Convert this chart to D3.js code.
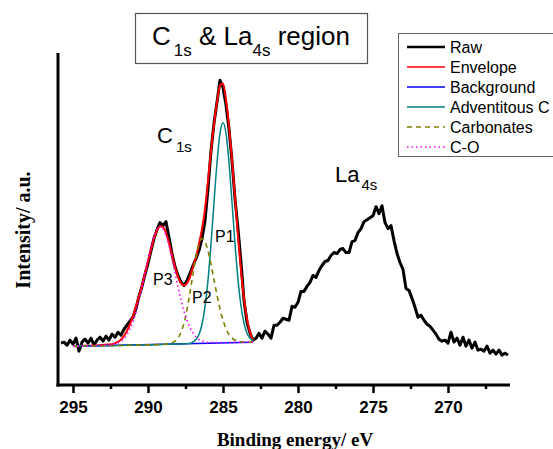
<!DOCTYPE html>
<html><head><meta charset="utf-8">
<script src="https://cdn.jsdelivr.net/npm/d3@7"></script>
<style>body{margin:0;background:#fff}</style>
</head><body>
<svg id="chart" width="553" height="449"></svg>
<script>
// ---------------- DATA ----------------
const rawEnergy = [
 295.8,295.6,295.4,295.2,295.0,294.8,294.6,294.4,294.2,294.0,
 293.8,293.6,293.4,293.2,293.0,292.8,292.6,292.4,292.2,292.0,
 291.8,291.6,291.4,291.2,291.0,290.8,290.6,290.4,290.2,290.0,
 289.8,289.6,289.4,289.2,289.0,288.8,288.6,288.4,288.2,288.0,
 287.8,287.6,287.4,287.2,287.0,286.8,286.6,286.4,286.2,286.0,
 285.8,285.6,285.4,285.2,285.0,284.8,284.6,284.4,284.2,284.0,
 283.8,283.6,283.4,283.2,283.0,282.8,282.6,282.4,282.2,282.0,
 281.8,281.6,281.4,281.2,281.0,280.8,280.6,280.4,280.2,280.0,
 279.8,279.6,279.4,279.2,279.0,278.8,278.6,278.4,278.2,278.0,
 277.8,277.6,277.4,277.2,277.0,276.8,276.6,276.4,276.2,276.0,
 275.8,275.6,275.4,275.2,275.0,274.8,274.6,274.4,274.2,274.0,
 273.8,273.6,273.4,273.2,273.0,272.8,272.6,272.4,272.2,272.0,
 271.8,271.6,271.4,271.2,271.0,270.8,270.6,270.4,270.2,270.0,
 269.8,269.6,269.4,269.2,269.0,268.8,268.6,268.4,268.2,268.0,
 267.8,267.6,267.4,267.2,267.0,266.8,266.6,266.4,266.2,266.0];
const rawIntensity = [
 126,129,120,135,123,141,102,129,138,126,
 141,120,135,144,132,147,135,153,144,159,
 150,168,180,192,204,231,267,297,333,366,
 405,441,468,489,480,492,444,396,357,330,
 309,300,315,336,360,381,405,441,495,591,
 705,789,852,918,897,843,771,675,561,471,
 369,255,189,156,135,141,156,141,162,153,
 141,180,180,189,201,198,195,237,234,249,
 282,282,297,309,330,324,345,360,372,375,
 390,399,396,408,411,399,399,432,435,459,
 471,492,498,504,510,537,516,540,489,471,
 480,435,396,369,348,291,285,261,234,204,
 210,195,183,177,165,153,138,132,135,126,
 159,129,141,120,144,117,135,111,129,105,
 108,102,117,96,105,93,105,90,96,90];

const envelope = [[295.0,117],
 [292.4,123],[292.2,126],[292.0,130],[291.8,137],[291.6,148],[291.4,163],[291.2,183],[291.0,208],
 [290.8,238],[290.6,268],[290.4,300],[290.2,336],[290.0,372],[289.8,408],[289.6,442],[289.4,466],
 [289.2,478],[289.0,476],[288.8,458],[288.6,428],[288.4,392],[288.2,356],[288.0,326],[287.8,307],
 [287.6,300],[287.4,306],[287.2,325],[287.0,356],[286.8,385],[286.6,425],[286.4,470],[286.2,530],
 [286.0,615],[285.8,705],[285.6,785],[285.4,852],[285.2,902],[285.0,908],[284.8,860],[284.6,780],
 [284.4,680],[284.2,565],[284.0,450],[283.8,345],[283.6,260],[283.4,200],[283.2,160],[283.0,132]];

const background = [[295.0,117],[283.0,129]];

const adventitiousC = [[295.0,117],[287.2,125],[287.0,130],[286.8,137],[286.6,152],[286.4,183],
 [286.2,236],[286.0,316],[285.8,424],[285.6,549],[285.4,670],[285.2,758],[285.0,790],[284.8,758],
 [284.6,670],[284.4,550],[284.2,426],[284.0,318],[283.8,238],[283.6,186],[283.4,156],[283.2,141],[283.0,134]];

const carbonates = [[295.0,117],[288.8,123],[288.6,125],[288.4,127],[288.2,132],[288.0,142],
 [287.8,159],[287.6,186],[287.4,227],[287.2,278],[287.0,335],[286.8,388],[286.6,426],[286.4,441],
 [286.2,431],[286.0,404],[285.8,364],[285.6,317],[285.4,271],[285.2,229],[285.0,195],[284.8,170],
 [284.6,152],[284.4,142],[284.2,135],[284.0,132],[283.8,130],[283.0,129]];

const cO = [[295.0,117],[292.6,120],[292.4,122],[292.2,124],[292.0,127],[291.8,132],[291.6,140],
 [291.4,152],[291.2,169],[291.0,191],[290.8,219],[290.6,254],[290.4,294],[290.2,337],[290.0,379],
 [289.8,418],[289.6,449],[289.4,470],[289.2,477],[289.0,470],[288.8,450],[288.6,419],[288.4,381],
 [288.2,339],[288.0,296],[287.8,257],[287.6,222],[287.4,195],[287.2,173],[287.0,157],[286.8,145],
 [286.6,137],[286.4,133],[286.2,130],[286.0,128],[283.0,129]];

const xTicks = [295,290,285,280,275,270];
const xMinorTicks = [292.5,287.5,282.5,277.5,272.5,267.5];
const legendLabels = ["Raw","Envelope","Background","Adventitous C","Carbonates","C-O"];
const peakLabels = ["P1","P2","P3"];

// ---------------- CHART ----------------
const svg = d3.select("#chart");
const sans = "'Liberation Sans', Arial, sans-serif";
const serif = "'Liberation Serif', 'Times New Roman', serif";

const x = d3.scaleLinear().domain([296, 265.8667]).range([58, 510]);
const y = d3.scaleLinear().domain([0, 1000]).range([385, 53]);

const raw = rawEnergy.map((e,i)=>[e, rawIntensity[i]]);
const lineLin = d3.line().x(d=>x(d[0])).y(d=>y(d[1]));
const lineSmooth = d3.line().x(d=>x(d[0])).y(d=>y(d[1])).curve(d3.curveMonotoneX);

const styles = [
  {data: raw, color:"#000000", w:3, dash:null, gen:lineLin},
  {data: envelope, color:"#ff0000", w:2, dash:null, gen:lineSmooth},
  {data: background, color:"#0000ff", w:1.5, dash:null, gen:lineLin},
  {data: adventitiousC, color:"#008080", w:1.5, dash:null, gen:lineSmooth},
  {data: carbonates, color:"#808000", w:1.6, dash:"5,4", gen:lineSmooth},
  {data: cO, color:"#ff00ff", w:1.6, dash:"1.5,3", gen:lineSmooth}
];

styles.forEach(s=>{
  svg.append("path").datum(s.data)
    .attr("d", s.gen)
    .attr("fill","none")
    .attr("stroke", s.color)
    .attr("stroke-width", s.w)
    .attr("stroke-linejoin","round")
    .attr("stroke-dasharray", s.dash);
});

// axes
const gx = svg.append("g").attr("transform","translate(0,385)");
gx.call(d3.axisBottom(x).tickValues(xTicks).tickSize(8).tickPadding(8).tickSizeOuter(0).tickFormat(d3.format("d")));
gx.select(".domain").remove();
gx.selectAll(".tick line").attr("stroke","#000").attr("stroke-width",2.5);
gx.selectAll(".tick text").attr("font-family",sans).attr("font-weight","bold").attr("font-size",17).attr("fill","#000");

const gm = svg.append("g").attr("transform","translate(0,385)");
gm.call(d3.axisBottom(x).tickValues(xMinorTicks).tickSize(4).tickSizeOuter(0).tickFormat(""));
gm.select(".domain").remove();
gm.selectAll(".tick line").attr("stroke","#000").attr("stroke-width",2.5);

svg.append("line").attr("x1",56.5).attr("x2",510).attr("y1",385).attr("y2",385)
  .attr("stroke","#000").attr("stroke-width",3);
svg.append("line").attr("x1",58).attr("x2",58).attr("y1",53).attr("y2",386.5)
  .attr("stroke","#000").attr("stroke-width",3);

svg.append("text").attr("x",295).attr("y",446).attr("text-anchor","middle")
  .attr("font-family",serif).attr("font-weight","bold").attr("font-size",19)
  .text("Binding energy/ eV");
svg.append("text").attr("transform","translate(30,230) rotate(-90)").attr("text-anchor","middle")
  .attr("font-family",serif).attr("font-weight","bold").attr("font-size",20)
  .text("Intensity/ a.u.");

// title box
svg.append("rect").attr("x",135.5).attr("y",13.5).attr("width",232).attr("height",50)
  .attr("fill","#fff").attr("stroke","#555").attr("stroke-width",1.2);
const t = svg.append("text").attr("x",152).attr("y",45).attr("font-family",sans).attr("font-size",26);
t.append("tspan").text("C");
t.append("tspan").attr("dx",3).attr("dy",11).attr("font-size",17).text("1s");
t.append("tspan").attr("dy",-11).text(" & La");
t.append("tspan").attr("dy",11).attr("font-size",17).text("4s");
t.append("tspan").attr("dy",-11).text(" region");

// peak labels
const c1 = svg.append("text").attr("x",157).attr("y",143).attr("font-family",sans).attr("font-size",22);
c1.append("tspan").text("C");
c1.append("tspan").attr("dx",3).attr("dy",9).attr("font-size",15).text("1s");
const la = svg.append("text").attr("x",335).attr("y",182).attr("font-family",sans).attr("font-size",22);
la.append("tspan").text("La");
la.append("tspan").attr("dx",2).attr("dy",8).attr("font-size",15).text("4s");

const peakPos = [[215,242],[192,303],[153,285]];
peakLabels.forEach((p,i)=>{
  svg.append("text").attr("x",peakPos[i][0]).attr("y",peakPos[i][1])
    .attr("font-family",sans).attr("font-size",16).text(p);
});

// legend
svg.append("rect").attr("x",398.5).attr("y",33.5).attr("width",170).attr("height",123)
  .attr("fill","#fff").attr("stroke","#666").attr("stroke-width",1);
legendLabels.forEach((lab,i)=>{
  const yy = 47 + 20*i;
  const s = styles[i];
  svg.append("line").attr("x1",407).attr("x2",445).attr("y1",yy).attr("y2",yy)
    .attr("stroke",s.color).attr("stroke-width", i===0?2.6:1.6).attr("stroke-dasharray",s.dash);
  svg.append("text").attr("x",450).attr("y",yy).attr("dy","0.35em")
    .attr("font-family",sans).attr("font-size",16).text(lab);
});
</script>
</body></html>
